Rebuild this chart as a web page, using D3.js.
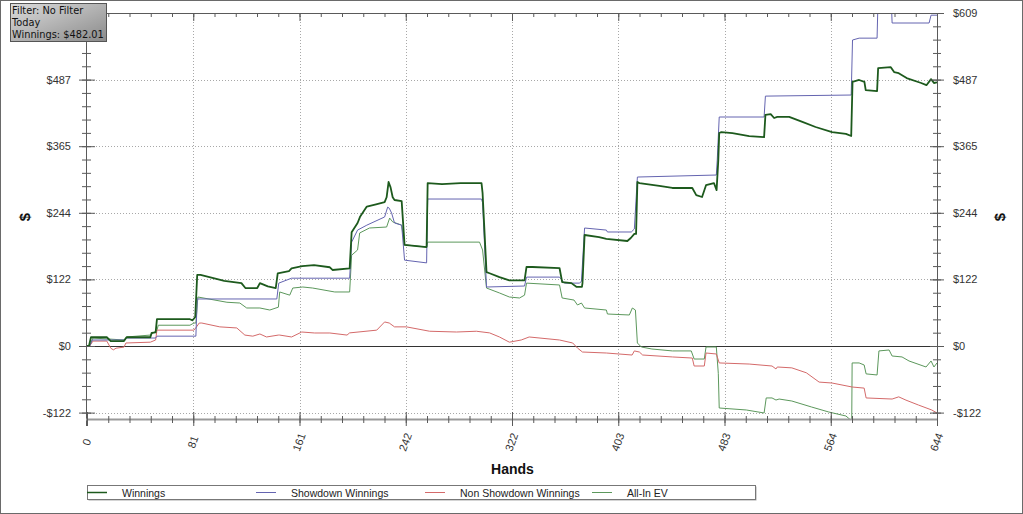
<!DOCTYPE html>
<html><head><meta charset="utf-8">
<script src="https://cdn.jsdelivr.net/npm/d3@7"></script>
<style>
html,body{margin:0;padding:0;background:#fff;}
svg{display:block;}
</style></head>
<body>
<script>
// ---------- DATA ----------
const seriesNames = ["Winnings", "Showdown Winnings", "Non Showdown Winnings", "All-In EV"];
const seriesColors = ["#1d5a1d", "#6464b0", "#d46a6a", "#5c985c"];

const xTickValues = [0, 80.5, 161, 241.5, 322, 402.5, 483, 563.5, 644];
const xTickLabels = ["0", "81", "161", "242", "322", "403", "483", "564", "644"];
const yTickValues = [-121.8, 0, 121.8, 243.6, 365.4, 487.2, 609];
const yTickLabels = ["-$122", "$0", "$122", "$244", "$365", "$487", "$609"];

// [hand, $]
const winnings = [[0,0],[1.5,0],[3,16],[15,16],[18,9],[28,9],[30,16],[48,16],[49,24],[52,25],[53,49],[78,49],[80,47],[82,53],[83.5,130],[86,130],[104,119],[117,115],[120,106],[129,106],[131,115],[137,109],[143,106],[144.5,133],[153,137],[155,142],[163,146],[172,148],[184,144],[186,139],[199,142],[200.5,208],[205,225],[207,237],[212,255],[219,259],[225.5,263],[227,272],[228.5,300],[230,290],[231.6,272],[233,267],[238.4,265],[240.6,185],[257.3,181],[258.1,298],[269,296],[283,298],[298.9,298],[299.7,280],[302.7,135],[305,133],[312.5,126],[320,120],[331.5,120],[333,144.5],[337.5,144.5],[358,142.6],[360,117],[367,115],[371,108],[375,108],[375.4,115],[377,203],[388,199],[393.5,196],[409.4,192],[412,197.5],[414.7,205],[416,205],[417,300],[418.5,298],[433.6,293],[443.5,289],[458.6,289],[461.6,276],[466,272.5],[469,294],[475,298],[477,285],[478.3,340],[479,389.5],[480.6,391],[489,389.5],[501.7,384],[513,382],[514,422.5],[518,424],[520.6,417],[523,419],[532,419],[542,410],[552,400.5],[564.5,391],[575,388],[579,384],[580,483],[585,486.5],[589,483],[590,468],[598.6,466],[599.4,508],[609,510],[611.5,501],[615,499],[621,490],[632,481],[636,477],[639.5,488],[641.7,481],[644,482]];

const showdown = [[0,0],[2,0],[4,11],[28,11],[30,14.6],[52,14.6],[53,18],[82.5,18],[83.5,86],[143.8,86],[145.3,115],[155,124],[199,124],[200.5,190],[205,212],[212,221],[225.5,236],[227.8,254],[229,252],[230.8,243],[233,225],[238.4,221],[240.6,157],[257.3,152],[258.1,268.8],[298.9,268.8],[299.7,262],[302.7,107.9],[331.5,109.7],[333,126],[358,126],[361.7,115],[373,115],[374.6,118],[377,215.8],[393.5,212],[394.3,208.5],[412.4,208.5],[414.7,214],[417,309],[476.8,312.7],[477.5,340],[479,418.8],[513,418.8],[514,457],[579,459],[580,559.6],[585,563],[598.6,563],[599.4,640],[609.2,640],[610,590.7],[638,590.7],[639.5,605],[644,605]];

const nonShowdown = [[0,0],[2,0],[4.5,9],[15,9],[18,-4],[20,-7],[22,-4],[28,-2],[29.5,5.5],[48,7],[52,11],[53,29],[81,29],[83,35],[85,42],[87,42],[100.6,35],[113.5,33],[119.6,20],[125.6,18],[131,22],[136,16.5],[145,20],[146,20],[155,16.5],[162.7,25.6],[172.5,23.8],[184,23.8],[197,20],[199,24],[219.5,29],[225.5,44],[229,42],[233,35],[242,35],[259.6,27],[280,25.6],[295,27],[305,24],[312.5,16.5],[320,7],[329,11],[335,16.5],[358,11],[368,5.5],[371.6,-3.7],[375.4,-11],[393.5,-12.8],[413,-16.5],[414.7,-9],[418.5,-11],[421,-16.5],[443.5,-20],[458.6,-22],[460,-36.6],[467.7,-36.6],[469,-12.8],[476.8,-14.6],[479,-31],[501.7,-33],[519,-36.6],[522,-42],[523,-38.4],[534,-40],[545,-49],[554.7,-66],[564.5,-67.7],[579.7,-75],[588.8,-77],[590.3,-95],[610,-97],[615,-93],[620.5,-99],[630,-108],[640,-117],[644,-122.5]];

const allInEV = [[0,0],[2,0],[4.5,14.6],[15,13],[28,11],[30,16.5],[48,20],[53,29],[54,38],[78,38],[81,42],[82.5,42],[84,89.6],[106,80],[115.8,78.6],[121,69.5],[131,69.5],[138.5,65.8],[145,71],[146,98.8],[153.6,93],[155.9,106],[163.5,107.9],[171,106],[187.7,98.8],[199,98.8],[200.5,166],[205,175.6],[206.6,206.7],[214,215.8],[227,217.6],[229.3,234],[231.6,227],[238.4,221],[240.6,185],[257.3,181],[258.1,190],[297.4,190],[299.7,175.6],[302.7,106],[312.5,97],[320,89.6],[327.7,87.8],[331.5,93],[333,115],[358,111.6],[360,87.8],[369,84],[371.6,75],[374.6,78.6],[377,69.5],[393.5,65.8],[394.3,58.5],[410.9,56.7],[413.2,69.5],[415.5,65.8],[417,5.5],[420,-1.8],[428,-5.5],[443.5,-9],[457.8,-9],[460,-23.8],[467.7,-23.8],[469,-1.8],[476.8,-1.8],[478.3,-50],[479,-113.4],[499.5,-117],[513,-122.5],[514.6,-95],[519,-95],[522,-98.8],[524.4,-97],[534,-100.6],[549,-111.6],[562,-120.7],[575,-128],[578.9,-136],[579.4,-136],[579.7,-31],[585,-31],[588.8,-34.7],[590.3,-51],[598.6,-53],[600,-9],[607.7,-7.3],[610,-18.3],[617.5,-20],[622.8,-27.4],[635.7,-38.4],[639.5,-27.4],[641.7,-38.4],[644,-31]];

const seriesData = [winnings, showdown, nonShowdown, allInEV];

const infoLines = ["Filter: No Filter", "Today", "Winnings: $482.01"];
const xTitle = "Hands";
const yTitle = "$";

// ---------- LAYOUT ----------
const W = 1023, H = 514;
const L = 87, R = 937, T = 13, B = 419;

const svg = d3.select("body").append("svg").attr("width", W).attr("height", H);

svg.append("rect").attr("x",0.5).attr("y",0.5).attr("width",W-1).attr("height",H-1)
  .attr("fill","#fff").attr("stroke","#6a6a6a");

const x = d3.scaleLinear().domain([0,644]).range([L,R]);
const y = d3.scaleLinear().domain([-133.5,609]).range([B,T]);

const minorX = d3.range(0, 645, 644/40);
const minorY = d3.range(-5, 26).map(i => i*121.8/5).filter(v => v >= -133.5 && v <= 609.5);

// gridlines
const grid = svg.append("g").attr("stroke","#a8a8a8").attr("stroke-dasharray","1,2").attr("stroke-width",1);
xTickValues.slice(1,-1).forEach(v=>{
  grid.append("line").attr("x1",Math.round(x(v))+0.5).attr("x2",Math.round(x(v))+0.5).attr("y1",T).attr("y2",B);
});
yTickValues.filter(v=>v!==0 && v!==609).forEach(v=>{
  grid.append("line").attr("x1",L).attr("x2",R).attr("y1",Math.round(y(v))+0.5).attr("y2",Math.round(y(v))+0.5);
});

// zero line
svg.append("line").attr("x1",L).attr("x2",R).attr("y1",Math.round(y(0))+0.5).attr("y2",Math.round(y(0))+0.5)
  .attr("stroke","#333").attr("stroke-width",1);

// clip
svg.append("clipPath").attr("id","clip").append("rect").attr("x",L).attr("y",T).attr("width",R-L).attr("height",B-T);

const line = d3.line().x(d=>x(d[0])).y(d=>y(d[1]));
const drawOrder = [3,2,1,0];
const lines = svg.append("g").attr("clip-path","url(#clip)");
drawOrder.forEach(i=>{
  lines.append("path").attr("d", line(seriesData[i])).attr("fill","none")
    .attr("stroke", seriesColors[i]).attr("stroke-width", i===0 ? 1.8 : 1)
    .attr("stroke-linejoin","round");
});

const axisCol = "#5a5a5a";
svg.append("line").attr("x1",L-0.5).attr("x2",L-0.5).attr("y1",T).attr("y2",B+7).attr("stroke",axisCol);
svg.append("line").attr("x1",R+0.5).attr("x2",R+0.5).attr("y1",T).attr("y2",B+7).attr("stroke",axisCol);
svg.append("line").attr("x1",L).attr("x2",R).attr("y1",T+0.5).attr("y2",T+0.5).attr("stroke",axisCol);

const leftMinorG = svg.append("g").attr("transform",`translate(${L},0)`).call(d3.axisLeft(y).tickValues(minorY).tickSize(0).tickFormat(""));
leftMinorG.select(".domain").remove(); leftMinorG.selectAll("line").attr("stroke",axisCol).attr("x1",-5).attr("x2",4);
leftMinorG.selectAll("text").remove();
// the top-left label is hidden behind the info box in the original
const leftMajG = svg.append("g").attr("transform",`translate(${L},0)`).call(d3.axisLeft(y).tickValues(yTickValues).tickSize(0).tickFormat((d,i)=>d===609 ? "" : yTickLabels[i]));
leftMajG.select(".domain").remove();
leftMajG.selectAll(".tick line").attr("stroke",axisCol).attr("x1",-8).attr("x2",8);
leftMajG.selectAll(".tick text").filter(d=>d===609).remove();
leftMajG.selectAll(".tick text").attr("x",-16).attr("font-family","'Liberation Sans', Arial, sans-serif").attr("font-size",11).attr("fill","#333");

const rightMinorG = svg.append("g").attr("transform",`translate(${R},0)`).call(d3.axisRight(y).tickValues(minorY).tickSize(0).tickFormat(""));
rightMinorG.select(".domain").remove(); rightMinorG.selectAll("line").attr("stroke",axisCol).attr("x1",-4).attr("x2",4);
rightMinorG.selectAll("text").remove();
const rightMajG = svg.append("g").attr("transform",`translate(${R},0)`).call(d3.axisRight(y).tickValues(yTickValues).tickSize(0).tickFormat((d,i)=>yTickLabels[i]));
rightMajG.select(".domain").remove();
rightMajG.selectAll(".tick line").attr("stroke",axisCol).attr("x1",-7).attr("x2",7);
rightMajG.selectAll(".tick text").attr("x",16).attr("font-family","'Liberation Sans', Arial, sans-serif").attr("font-size",11).attr("fill","#333");

// top axis ticks
const topG = svg.append("g").attr("transform",`translate(0,${T})`).call(d3.axisBottom(x).tickValues(minorX).tickSize(4).tickFormat(""));
topG.select(".domain").remove(); topG.selectAll("line").attr("stroke",axisCol); topG.selectAll("text").remove();
const topMajG = svg.append("g").attr("transform",`translate(0,${T})`).call(d3.axisBottom(x).tickValues(xTickValues).tickSize(8).tickFormat(""));
topMajG.select(".domain").remove(); topMajG.selectAll("line").attr("stroke",axisCol); topMajG.selectAll("text").remove();

// bottom axis
svg.append("line").attr("x1",L-1).attr("x2",R+1).attr("y1",B+0.5).attr("y2",B+0.5).attr("stroke","#9a9a9a").attr("stroke-width",2);
const botMinG = svg.append("g").attr("transform",`translate(0,${B})`).call(d3.axisBottom(x).tickValues(minorX).tickSize(4).tickFormat(""));
botMinG.select(".domain").remove(); botMinG.selectAll("line").attr("stroke",axisCol).attr("y1",-3); botMinG.selectAll("text").remove();
const botMajG = svg.append("g").attr("transform",`translate(0,${B})`).call(d3.axisBottom(x).tickValues(xTickValues).tickSize(7).tickFormat((d,i)=>xTickLabels[i]));
botMajG.select(".domain").remove(); botMajG.selectAll(".tick line").attr("stroke",axisCol).attr("y1",-7);
botMajG.selectAll(".tick text").attr("y",0).attr("dy",null)
  .attr("transform","translate(-1,23) rotate(-70)").attr("text-anchor","middle").attr("dominant-baseline","central")
  .attr("font-family","'Liberation Sans', Arial, sans-serif").attr("font-size",11).attr("fill","#333");

// titles
svg.append("text").attr("x",(L+R)/2+0.5).attr("y",474).attr("text-anchor","middle")
  .attr("font-family","'Liberation Sans', Arial, sans-serif").attr("font-weight","bold").attr("font-size",14).attr("fill","#111").text(xTitle);
[[24,217],[999,217]].forEach(p=>{
  svg.append("text").attr("transform",`translate(${p[0]},${p[1]}) rotate(-90)`).attr("text-anchor","middle").attr("dominant-baseline","central")
    .attr("font-family","'Liberation Sans', Arial, sans-serif").attr("font-weight","bold").attr("font-size",15).attr("fill","#111").text(yTitle);
});

// legend
const leg = svg.append("g");
leg.append("rect").attr("x",88.5).attr("y",486.5).attr("width",668).attr("height",14).attr("fill","#aaa");
leg.append("rect").attr("x",87.5).attr("y",485.5).attr("width",668).attr("height",14).attr("fill","#fff").attr("stroke","#777");
const legX = [87, 256, 425, 592];
seriesNames.forEach((n,i)=>{
  leg.append("line").attr("x1",legX[i]).attr("x2",legX[i]+20).attr("y1",492.5).attr("y2",492.5)
    .attr("stroke",seriesColors[i]).attr("stroke-width", i===0?1.5:1);
  leg.append("text").attr("x",legX[i]+35).attr("y",496.5).attr("font-family","'Liberation Sans', Arial, sans-serif")
    .attr("font-size",10.5).attr("fill","#222").text(n);
});

// info box
const defs = svg.append("defs");
const gr = defs.append("linearGradient").attr("id","gbox").attr("x1","0").attr("y1","0").attr("x2","1").attr("y2","1");
gr.append("stop").attr("offset","0").attr("stop-color","#dcdcdc");
gr.append("stop").attr("offset","1").attr("stop-color","#8a8a8a");
svg.append("rect").attr("x",10.5).attr("y",3.5).attr("width",96).attr("height",38).attr("fill","url(#gbox)").attr("stroke","#555");
infoLines.forEach((t,i)=>{
  svg.append("text").attr("x",12).attr("y",14+i*12).attr("font-family","'DejaVu Sans', Verdana, sans-serif")
    .attr("font-size",9.8).attr("fill","#111").text(t);
});
</script>
</body></html>
